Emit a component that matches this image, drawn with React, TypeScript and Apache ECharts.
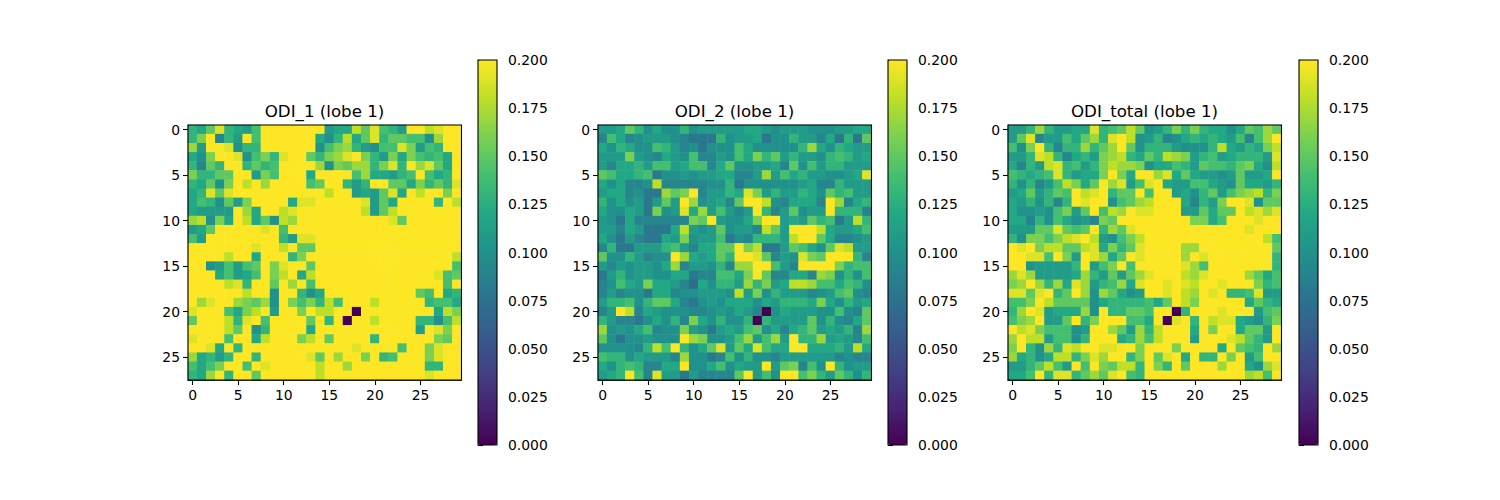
import React, { useEffect, useRef } from "react";
import * as echarts from "echarts";

const xCategories = Array.from({ length: 30 }, (_, i) => String(i));
const yCategories = Array.from({ length: 28 }, (_, i) => String(i));
const titles = ["ODI_1 (lobe 1)", "ODI_2 (lobe 1)", "ODI_total (lobe 1)"];
const viridis = ["#440154", "#482475", "#414487", "#355f8d", "#2a788e", "#21918c", "#22a884", "#44bf70", "#7ad151", "#bddf26", "#fde725"];

// values in hundredths, row by row
const odi1 = [
  [13,12,15,19,13,12,11,14,20,20,20,20,20,20,20,11,12,12,18,15,19,14,13,11,20,20,18,19,20,20],
  [13,16,20,9,13,11,20,14,20,20,20,20,20,20,12,10,13,18,12,15,19,13,15,15,14,14,10,17,20,20],
  [17,11,20,20,19,10,13,13,20,20,20,20,20,20,10,14,16,17,13,11,10,14,14,19,16,11,14,13,20,20],
  [12,10,16,20,20,19,10,14,16,13,19,20,20,15,13,16,17,19,20,16,13,11,16,12,16,14,13,14,12,20],
  [13,9,15,13,20,20,13,15,13,14,20,20,20,20,17,10,16,15,17,17,13,16,19,13,20,17,19,15,12,20],
  [16,13,13,15,15,20,20,11,16,14,20,20,20,12,20,20,20,20,14,17,12,12,11,13,14,20,14,12,13,20],
  [13,12,15,10,16,20,18,20,17,20,20,20,20,14,15,20,20,13,11,13,20,20,15,15,12,16,13,15,13,19],
  [12,13,19,15,19,20,20,20,20,20,20,20,20,20,20,18,20,20,11,12,11,15,19,12,20,18,20,20,16,20],
  [12,14,13,10,15,11,16,20,20,20,20,12,19,19,20,20,20,20,20,19,11,15,12,20,20,20,20,13,20,18],
  [12,11,11,11,11,20,17,12,20,20,18,19,20,20,20,20,20,20,20,18,11,15,18,20,20,20,20,20,20,20],
  [17,18,10,16,12,20,18,12,15,10,18,17,20,20,20,20,20,20,20,20,20,20,19,15,20,20,20,20,20,20],
  [11,12,15,20,20,20,20,20,19,20,14,20,20,20,20,20,20,20,20,20,20,20,20,20,20,20,20,20,20,20],
  [14,11,20,20,20,20,20,20,20,20,13,11,19,19,20,20,20,20,20,20,20,20,20,20,20,20,20,20,20,20],
  [20,20,20,20,20,20,20,19,20,20,18,20,15,15,20,20,20,20,20,20,20,20,20,20,20,20,20,20,20,20],
  [20,20,20,20,18,20,20,12,20,20,20,13,16,20,20,20,20,20,20,20,20,20,20,20,20,20,20,20,20,18],
  [20,20,10,11,14,11,14,15,20,16,19,20,20,15,20,20,20,20,20,20,20,20,20,20,20,20,20,20,20,14],
  [20,20,20,12,14,11,12,14,20,16,18,20,12,18,20,20,20,20,20,20,20,20,20,20,20,20,20,19,14,15],
  [20,20,20,20,18,19,13,20,20,15,20,17,20,14,20,20,20,20,20,20,20,20,20,20,20,20,20,20,14,20],
  [20,20,20,20,20,20,18,20,20,10,20,20,13,10,12,20,20,20,20,20,20,20,20,20,20,15,14,20,12,13],
  [20,17,19,20,20,17,16,15,17,10,20,16,14,16,13,18,14,20,20,20,18,20,20,20,20,20,13,14,14,12],
  [19,20,20,20,14,12,16,18,20,11,20,20,16,20,18,18,20,20,0,20,20,20,20,20,20,20,20,12,18,16],
  [15,20,20,20,18,13,19,20,14,20,20,20,20,15,20,13,20,0,20,20,18,20,20,20,20,13,13,10,14,18],
  [20,20,20,20,18,15,20,10,13,20,20,20,20,12,20,20,20,20,20,20,20,20,20,20,20,11,20,19,16,20],
  [19,20,20,20,14,20,20,12,18,20,20,20,16,18,20,15,20,20,20,20,13,20,20,20,20,20,20,16,15,20],
  [20,20,19,12,20,13,20,20,20,20,20,20,20,20,20,20,20,20,19,20,20,20,20,14,20,20,16,19,20,20],
  [17,12,13,11,13,20,20,13,20,20,20,20,20,19,15,20,17,20,20,16,20,13,14,20,20,20,16,19,20,20],
  [14,12,14,16,20,20,14,20,19,20,20,20,20,20,18,20,20,17,20,20,20,20,20,20,20,20,13,13,20,20],
  [13,12,17,20,13,20,20,15,20,20,20,20,20,20,18,20,20,20,20,20,20,20,20,20,20,20,19,20,20,20],
];
const odi2 = [
  [11,11,12,15,13,10,12,10,10,13,10,11,11,11,11,11,12,12,11,10,11,11,11,10,10,10,11,11,12,12],
  [9,14,12,9,10,11,11,11,10,9,8,8,8,13,10,11,11,12,8,10,10,13,11,11,9,12,8,13,8,15],
  [12,10,13,12,10,10,14,13,11,9,10,8,10,10,10,14,12,10,10,10,10,10,13,17,12,10,13,12,11,11],
  [11,11,11,16,11,10,9,12,11,10,14,9,9,11,10,14,12,16,13,15,11,13,11,11,10,13,14,13,11,12],
  [11,9,12,12,13,11,14,14,11,12,14,14,9,12,15,10,10,11,11,12,9,15,10,14,11,13,13,11,11,11],
  [15,14,12,12,13,14,8,10,10,11,10,11,11,12,12,9,9,11,17,11,14,12,13,11,11,10,10,11,12,19],
  [12,10,12,9,9,10,18,9,9,9,9,9,10,10,13,8,10,10,10,10,10,10,11,12,9,9,13,11,11,11],
  [11,12,12,9,10,8,8,17,15,16,20,9,11,11,13,12,19,16,11,13,11,11,13,12,10,15,13,14,11,11],
  [13,10,12,10,11,8,11,15,11,20,17,10,11,12,9,15,20,20,18,10,9,12,12,12,9,20,17,9,12,13],
  [12,10,10,12,11,8,16,10,11,19,12,17,11,14,11,9,11,20,13,9,11,15,10,11,11,20,13,13,13,9],
  [11,10,8,12,9,9,9,9,9,9,16,15,20,11,10,10,12,16,20,20,11,12,11,15,13,14,8,11,18,13],
  [11,11,9,12,11,8,8,8,12,18,11,10,11,15,10,11,11,9,18,15,11,20,20,20,18,12,11,11,12,14],
  [12,10,8,11,9,8,8,12,11,16,10,11,11,14,8,10,9,13,13,13,11,18,20,20,15,12,9,9,10,11],
  [9,13,8,8,11,11,11,13,14,11,9,12,12,15,15,20,16,18,8,8,11,15,14,12,10,15,19,18,11,11],
  [15,10,10,13,11,9,10,10,20,17,12,11,12,15,13,20,20,19,15,9,11,10,19,16,15,20,20,20,13,9],
  [11,9,11,10,11,11,10,12,17,9,11,11,10,13,9,17,17,20,20,14,11,9,20,20,20,20,16,13,14,14],
  [8,11,13,10,11,11,10,10,12,12,8,9,9,14,14,12,16,20,15,9,9,12,12,9,17,16,10,13,10,14],
  [9,10,14,12,11,16,12,12,11,9,7,12,10,13,13,11,17,13,16,11,12,18,18,17,14,14,12,14,13,10],
  [9,11,9,10,10,8,12,12,9,10,10,11,11,11,10,18,11,16,10,13,11,11,11,9,10,11,14,15,10,9],
  [11,13,13,14,10,13,15,15,12,9,8,10,11,10,12,12,12,10,12,11,13,13,13,12,16,12,10,13,11,12],
  [9,11,20,18,9,12,11,10,10,10,9,9,10,11,10,12,11,9,0,10,12,11,11,11,10,10,14,10,9,15],
  [13,11,9,9,8,10,12,10,13,9,16,12,10,13,10,10,13,0,13,11,11,11,11,15,10,13,10,9,12,15],
  [17,10,11,10,12,14,9,10,10,16,11,10,8,11,12,11,14,15,10,12,9,12,13,15,11,12,11,13,9,17],
  [15,10,8,10,10,11,10,10,10,20,17,16,10,10,11,14,17,11,14,17,11,20,13,13,17,11,12,11,9,14],
  [10,10,10,10,9,13,18,14,20,13,10,12,15,19,11,15,12,19,14,12,12,20,20,12,12,12,13,11,18,12],
  [14,13,13,10,12,11,11,11,9,17,10,10,8,9,14,10,13,10,10,9,11,11,11,11,11,11,9,10,9,9],
  [12,10,13,14,13,9,9,12,12,20,10,10,12,14,10,12,11,11,20,11,15,16,9,14,10,20,13,10,11,11],
  [11,12,13,20,14,9,19,11,11,8,11,9,9,9,9,15,20,11,14,10,20,20,14,16,13,11,15,13,10,13],
];
const odiTotal = [
  [11,11,13,17,13,11,11,12,12,19,13,14,15,18,15,10,11,13,16,13,16,13,12,12,10,12,15,14,17,15],
  [11,15,19,9,11,11,14,12,15,17,13,19,20,18,10,11,13,9,10,12,13,12,13,12,11,14,9,14,17,20],
  [14,10,16,20,13,9,13,13,17,13,15,17,20,15,10,13,13,13,11,10,10,10,13,18,12,11,13,12,16,18],
  [11,11,13,19,18,13,9,12,13,11,16,17,18,13,12,15,13,18,17,16,11,13,14,11,12,13,13,13,11,19],
  [12,9,13,11,18,19,13,14,11,13,16,18,17,17,16,10,12,12,14,13,11,15,14,14,13,15,16,12,10,18],
  [14,13,12,13,14,19,13,11,12,12,16,20,16,12,20,20,17,19,12,15,12,11,11,10,11,15,11,11,12,20],
  [13,10,13,9,11,14,18,16,12,15,20,17,19,11,14,19,20,12,11,11,14,14,12,11,10,15,12,12,11,13],
  [11,12,15,11,13,15,14,20,18,19,20,13,15,15,20,14,20,20,11,12,10,13,15,11,14,16,17,18,13,16],
  [12,11,13,10,13,9,13,20,19,20,20,10,14,15,17,18,20,20,20,12,9,13,11,16,20,20,19,10,15,15],
  [12,10,10,11,10,14,16,11,15,20,14,18,17,20,19,19,20,20,20,11,11,15,12,15,15,20,18,19,17,19],
  [12,12,9,13,10,14,12,10,11,9,16,15,20,20,20,20,20,20,20,20,16,16,12,14,20,20,20,19,20,20],
  [11,11,11,15,15,19,15,14,15,20,13,17,15,19,20,20,20,20,20,20,20,20,20,20,20,20,19,20,20,20],
  [13,10,16,16,14,16,18,19,20,18,11,10,14,16,18,20,20,20,20,20,20,20,20,20,20,20,20,20,18,14],
  [20,19,20,16,18,18,15,15,18,19,12,16,13,15,19,20,20,20,20,17,17,20,20,20,20,20,20,20,20,15],
  [20,20,19,19,14,20,16,11,20,19,17,12,15,20,19,20,20,20,20,17,20,19,20,20,20,20,20,20,20,13],
  [20,20,10,11,11,11,11,13,20,11,14,16,20,14,20,20,20,20,20,19,17,14,20,20,20,20,20,20,20,13],
  [17,19,17,11,11,11,11,12,17,13,11,15,11,15,17,19,20,20,20,18,17,19,20,20,20,20,17,15,12,14],
  [16,17,20,17,13,17,12,19,17,11,13,14,17,12,19,20,20,19,20,19,18,20,20,19,20,20,20,16,13,14],
  [19,19,15,19,20,13,15,20,17,10,17,15,12,10,11,20,20,19,20,18,17,20,19,20,13,13,14,19,11,11],
  [14,14,16,20,18,15,15,15,15,10,12,13,13,13,13,14,12,15,20,18,16,20,20,20,20,20,12,15,13,12],
  [13,17,20,19,11,12,12,12,17,10,20,13,13,15,15,14,20,20,0,13,20,20,20,19,20,20,20,11,14,15],
  [14,16,17,20,11,11,15,20,13,16,20,20,20,14,14,12,20,0,19,20,13,20,18,19,19,12,11,10,13,16],
  [20,18,19,16,14,14,14,10,11,20,20,17,15,11,17,13,18,20,20,20,12,20,16,20,20,12,15,15,11,20],
  [17,20,18,18,11,14,14,10,13,20,20,20,12,13,17,14,18,20,20,20,11,20,20,20,19,18,15,13,11,20],
  [16,20,13,10,17,13,19,18,20,20,19,19,20,20,16,20,20,20,16,20,20,20,20,12,20,15,14,13,20,17],
  [17,12,13,10,12,18,18,13,16,19,17,20,20,13,16,20,15,19,20,12,20,13,13,20,16,20,11,14,20,20],
  [11,11,13,15,18,14,11,20,14,20,16,15,18,18,13,20,16,13,20,15,20,20,20,17,20,20,12,10,17,19],
  [12,12,14,20,13,19,19,13,15,17,15,19,20,14,13,20,20,20,20,20,20,20,20,20,20,20,17,18,14,20],
];
const panels = [odi1, odi2, odiTotal];
const panelLefts = [188, 598, 1008];
const barLefts = [478, 888, 1299];
const font = "DejaVu Sans";

export default function App() {
  const ref = useRef<HTMLDivElement>(null);
  useEffect(() => {
    const chart = echarts.init(ref.current!, undefined, { renderer: "svg" });
    const axisText = { color: "#000", fontSize: 13.9, fontFamily: font };
    const line = { show: true, onZero: false, lineStyle: { color: "#000", width: 1.1 } };
    const tick = { show: true, length: 5, lineStyle: { color: "#000", width: 1.1 } };
    const grids: any[] = [], xAxes: any[] = [], yAxes: any[] = [], series: any[] = [], maps: any[] = [], ttl: any[] = [];
    panels.forEach((rows, i) => {
      grids.push({ show: true, z: 10, left: panelLefts[i], top: 125, width: 273.5, height: 255, borderColor: "#000", borderWidth: 1.1, backgroundColor: "transparent" });
      xAxes.push({ gridIndex: i, type: "category", data: xCategories, position: "bottom", axisLine: line,
        axisTick: { ...tick, alignWithLabel: true, interval: 4 }, axisLabel: { ...axisText, interval: 4, margin: 8 }, splitLine: { show: false } });
      yAxes.push({ gridIndex: i, type: "category", data: yCategories, inverse: true, axisLine: line,
        axisTick: { ...tick, alignWithLabel: true, interval: 4 }, axisLabel: { ...axisText, interval: 4, margin: 8 }, splitLine: { show: false } });
      series.push({ type: "heatmap", xAxisIndex: i, yAxisIndex: i, silent: true, progressive: 0, itemStyle: { borderWidth: 0 },
        data: rows.flatMap((row, y) => row.map((v, x) => [x, y, v / 100])) });
      maps.push({ type: "continuous", seriesIndex: i, dimension: 2, min: 0, max: 0.2, left: barLefts[i], top: 60, itemWidth: 19, itemHeight: 385,
        padding: 0, calculable: false, hoverLink: false, realtime: false, text: ["", ""], textGap: 0, inRange: { color: viridis } });
      ttl.push({ text: titles[i], left: panelLefts[i] + 136.5, top: 102.5, textAlign: "center", padding: 0,
        textStyle: { color: "#000", fontSize: 16.67, fontWeight: "normal", fontFamily: font } });
    });
    barLefts.forEach((left, i) => {
      const g = grids.length;
      grids.push({ show: true, z: 10, left, top: 60, width: 19, height: 385, borderColor: "#000", borderWidth: 1.1, backgroundColor: "transparent" });
      xAxes.push({ gridIndex: g, type: "value", show: false, min: 0, max: 1 });
      yAxes.push({ gridIndex: g, type: "value", min: 0, max: 0.2, interval: 0.025, position: "right", splitLine: { show: false },
        axisLine: { show: false }, axisTick: tick, axisLabel: { ...axisText, margin: 11, formatter: (v: number) => v.toFixed(3) } });
      series.push({ type: "scatter", xAxisIndex: g, yAxisIndex: g, data: [], silent: true });
    });
    chart.setOption({ animation: false, backgroundColor: "#fff", title: ttl, grid: grids, xAxis: xAxes, yAxis: yAxes, visualMap: maps, series });
    return () => chart.dispose();
  }, []);
  return <div ref={ref} style={{ position: "fixed", left: 0, top: 0, width: 1500, height: 500 }} />;
}
